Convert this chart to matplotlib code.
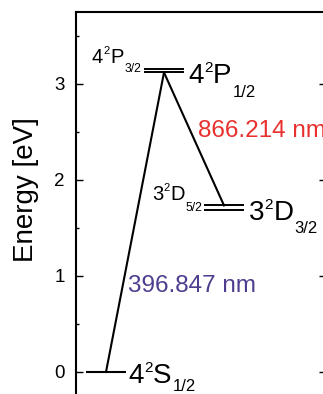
import matplotlib
matplotlib.use('Agg')
import matplotlib.pyplot as plt

plt.rcParams['font.family'] = 'Liberation Sans'

# energias de los niveles (eV), separaciones exageradas como en la figura
E_S = 0.0
E_P = [3.12, 3.16]      # P1/2, P3/2
E_D = [1.69, 1.735]     # D3/2, D5/2

# columnas de cada nivel (unidades arbitrarias)
x_S, x_P, x_D = 0.75, 2.2, 3.7
half = 0.5

lam_blue = '396.847 nm'
lam_red = '866.214 nm'

yticks = [0, 1, 2, 3]

W, H = 323, 394
fig = plt.figure(figsize=(W / 100, H / 100), dpi=100)
# el eje queda recortado por la derecha y por abajo
ax = fig.add_axes([76 / W, (394 - 12 - 408) / H, 250 / W, 408 / H])
ax.set_xlim(0, 6.25)
ax.set_ylim(-0.5, 3.75)

# niveles
ax.hlines(E_S, x_S - half, x_S + half, color='black', lw=1.5)
ax.hlines(E_P, x_P - half, x_P + half, color='black', lw=1.4)
ax.hlines(E_D, x_D - half, x_D + half, color='black', lw=1.4)

# transiciones
ax.plot([x_S, x_P], [E_S, E_P[0]], color='black', lw=1.5)
ax.plot([x_P, x_D], [E_P[0], E_D[1]], color='black', lw=1.5)


def etiqueta(x, y, n, L, j, size, dy_sub):
    # n ^2 L _j armado por piezas
    t1 = ax.text(x, y, n, fontsize=size, va='baseline')
    t2 = ax.annotate('2', xy=(1, 1), xycoords=t1, fontsize=size * 0.55,
                     va='top', ha='left', xytext=(0.3, 1.5),
                     textcoords='offset points')
    t3 = ax.annotate(L, xy=(1, 0), xycoords=(t2, t1), fontsize=size,
                     va='bottom', ha='left', xytext=(0.3, 0),
                     textcoords='offset points')
    ax.annotate(j, xy=(1, 0), xycoords=t3, fontsize=size * 0.6,
                va='top', ha='left', xytext=(0.8, dy_sub),
                textcoords='offset points')


big, small = 20, 14.5
etiqueta(2.8, 3.01, '4', 'P', '1/2', big, 3.0)
etiqueta(0.4, 3.22, '4', 'P', '3/2', small, 2.5)
etiqueta(1.9, 1.79, '3', 'D', '5/2', small, 1.5)
etiqueta(4.32, 1.58, '3', 'D', '3/2', big, 4.0)
etiqueta(1.3, -0.115, '4', 'S', '1/2', big, 7.0)
ax.text(3.05, 2.45, lam_red, fontsize=17.5, color='#e8302e', va='baseline')
ax.text(1.3, 0.83, lam_blue, fontsize=17.5, color='#4f3d8f', va='baseline')

# ejes
ax.set_yticks(yticks)
ax.set_yticks([-0.5, 0.5, 1.5, 2.5, 3.5], minor=True)
ax.tick_params(axis='y', which='both', direction='in', left=True, right=True,
               width=1.0, labelsize=13.5, pad=8)
ax.tick_params(axis='y', which='major', length=5)
ax.tick_params(axis='y', which='minor', length=2.5)
ax.set_xticks([])
for s in ax.spines.values():
    s.set_linewidth(1.5)

fig.text(26 / W, 1 - 190 / H, 'Energy [eV]', rotation=90, fontsize=20,
         ha='center', va='center')

plt.savefig('out.png', dpi=100)
